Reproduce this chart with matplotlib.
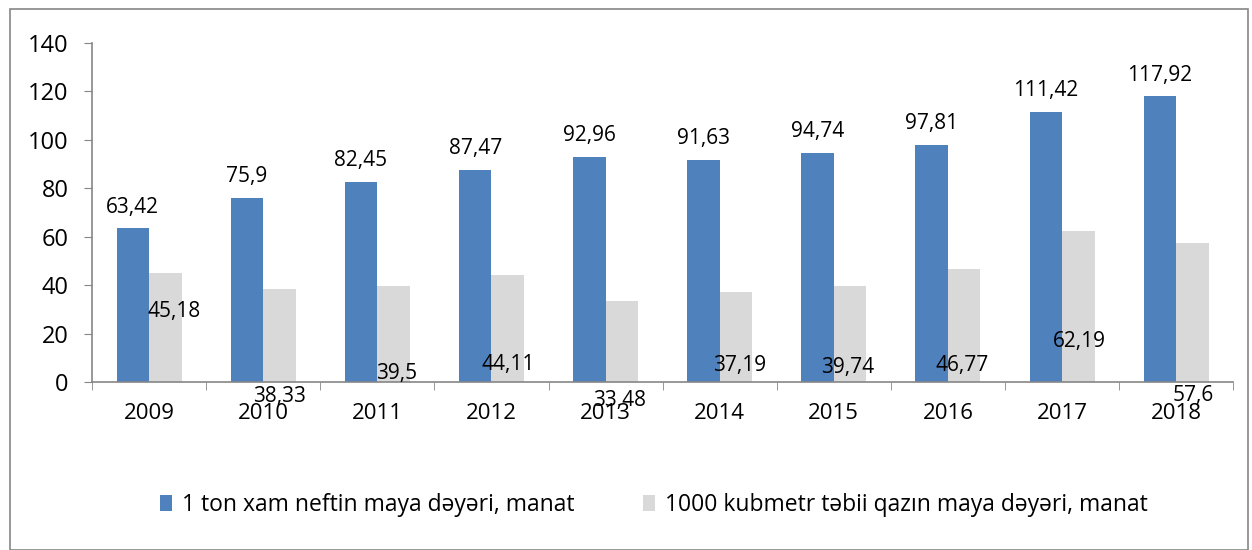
import matplotlib.pyplot as plt
import numpy as np
from matplotlib.patches import Rectangle

# Data
years = ['2009', '2010', '2011', '2012', '2013', '2014', '2015', '2016', '2017', '2018']
oil = [63.42, 75.9, 82.45, 87.47, 92.96, 91.63, 94.74, 97.81, 111.42, 117.92]
gas = [45.18, 38.33, 39.5, 44.11, 33.48, 37.19, 39.74, 46.77, 62.19, 57.6]
oil_name = '1 ton xam neftin maya dəyəri, manat'
gas_name = '1000 kubmetr təbii qazın maya dəyəri, manat'

# where the gas labels ended up in the original (data units)
gas_label_y = [29.3, -6.2, 3.7, 7.4, -7.8, 7.0, 5.8, 7.0, 16.9, -5.4]
gas_label_dx = [0.08, 0.0, 0.03, 0.0, -0.02, 0.03, -0.02, -0.02, 0.01, 0.01]

plt.rcParams['font.family'] = ['Open Sans', 'DejaVu Sans']

fig = plt.figure(figsize=(12.52, 5.5), dpi=100)
ax = fig.add_axes([0.0735, 0.3055, 0.9115, 0.6163])

x = np.arange(len(years))
w = 0.285
b1 = ax.bar(x - w / 2, oil, w, color='#4F81BD', label=oil_name)
b2 = ax.bar(x + w / 2, gas, w, color='#D9D9D9', label=gas_name)

for bar, v in zip(b1, oil):
    ax.text(bar.get_x() + bar.get_width() / 2, v + 4.5, f'{v:g}'.replace('.', ','),
            ha='center', va='bottom', fontsize=15)
for bar, v, ly, dx in zip(b2, gas, gas_label_y, gas_label_dx):
    ax.text(bar.get_x() + bar.get_width() / 2 + dx, ly, f'{v:g}'.replace('.', ','),
            ha='center', va='center', fontsize=15)

ax.set_xlim(-0.5, len(years) - 0.5)
ax.set_ylim(0, 140)
ax.set_yticks(range(0, 141, 20))
ax.set_xticks(x)
ax.set_xticklabels(years, fontsize=16)
ax.set_xticks(np.arange(-0.5, len(years), 1), minor=True)
ax.tick_params(axis='x', which='major', length=0, pad=15)
ax.tick_params(axis='x', which='minor', length=6, color='#868686')
ax.tick_params(axis='y', labelsize=17, length=6, color='#868686', pad=11)
for s in ['top', 'right']:
    ax.spines[s].set_visible(False)
for s in ['left', 'bottom']:
    ax.spines[s].set_color('#868686')
    ax.spines[s].set_linewidth(1.2)

fig.legend(handles=[b1, b2], loc='center', bbox_to_anchor=(0.522, 0.082), ncol=2,
           frameon=False, fontsize=16.5, handlelength=0.55, handleheight=0.7,
           columnspacing=3.0, handletextpad=0.4)

fig.patches.append(Rectangle((0.008, 0.0), 0.989, 0.983, transform=fig.transFigure,
                             fill=False, edgecolor='#868686', linewidth=1.2))

fig.savefig('out.png', dpi=100)
